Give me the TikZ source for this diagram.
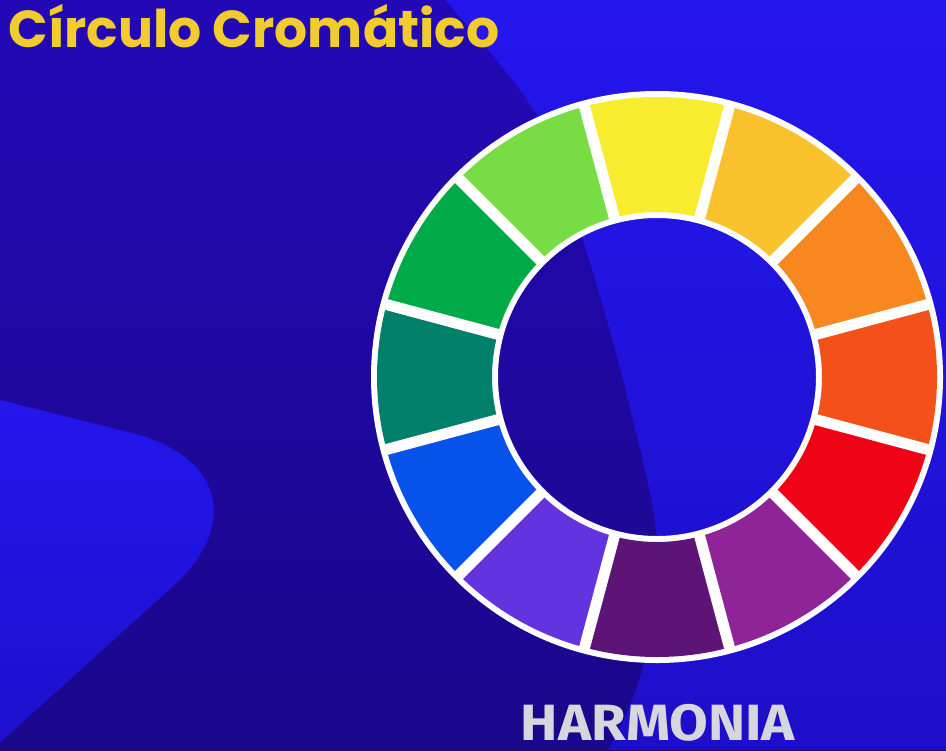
\documentclass[tikz,border=0pt]{standalone}
\usepackage{fontspec}
\usepackage{tikz}
\newfontfamily\titlefont{Poppins}
\newfontfamily\labelfont{Fira Sans}[FakeStretch=1.1]
\definecolor{bgdark}{RGB}{35,9,182}
\definecolor{bgdarklow}{RGB}{26,7,138}
\definecolor{bglight}{RGB}{36,22,238}
\definecolor{bglightlow}{RGB}{29,15,200}
\definecolor{titleyellow}{RGB}{242,203,47}
\definecolor{labelgrey}{RGB}{214,214,222}
\definecolor{cwyellow}{RGB}{248,236,46}
\definecolor{cwyelloworange}{RGB}{249,194,44}
\definecolor{cworange}{RGB}{247,135,30}
\definecolor{cwredorange}{RGB}{244,81,26}
\definecolor{cwred}{RGB}{238,4,22}
\definecolor{cwredviolet}{RGB}{142,36,151}
\definecolor{cwviolet}{RGB}{94,20,119}
\definecolor{cwblueviolet}{RGB}{100,51,224}
\definecolor{cwblue}{RGB}{6,82,234}
\definecolor{cwbluegreen}{RGB}{0,128,106}
\definecolor{cwgreen}{RGB}{0,170,72}
\definecolor{cwyellowgreen}{RGB}{120,221,69}

\begin{document}
\begin{tikzpicture}[x=0.5pt, y=-0.5pt,
  divider/.style={white, line width=5.5pt},
  headline/.style={anchor=base west, inner sep=0pt, text=titleyellow, font=\titlefont\bfseries\fontsize{26}{30}\selectfont},
  caption/.style={anchor=base, inner sep=0pt, text=labelgrey, font=\labelfont\bfseries\fontsize{25.5}{30}\selectfont}]
  \useasboundingbox (0,0) rectangle (946,750);
  \clip (0,0) rectangle (946,750);

  % background
  \shade[top color=bgdark, bottom color=bgdarklow] (0,0) rectangle (946,750);
  \shade[top color=bglight, bottom color=bglightlow] plot[smooth, tension=0.6] coordinates {(445,0) (540,120) (586,250) (628,400) (657,545) (642,670) (608,750)} -- (946,750) -- (946,0) -- cycle;
  \shade[top color=bglight, bottom color=bglightlow] (-60,385) -- (132,433) .. controls (223,456) and (241,526) .. (171,588) -- (-60,797) -- cycle;

  % colour wheel
  \coordinate (hub) at (657,377);
  \begin{scope}[shift={(hub)}, y=0.5pt]
    \fill[white, even odd rule] (0,0) circle[radius=286] (0,0) circle[radius=159];
    \foreach \ang/\col in {90/cwyellow, 120/cwyellowgreen, 150/cwgreen, 180/cwbluegreen, 210/cwblue, 240/cwblueviolet,
                           270/cwviolet, 300/cwredviolet, 330/cwred, 0/cwredorange, 30/cworange, 60/cwyelloworange}
      \fill[\col] (\ang-15:165) arc[start angle=\ang-15, end angle=\ang+15, radius=165]
        -- (\ang+15:280) arc[start angle=\ang+15, end angle=\ang-15, radius=280] -- cycle;
    \foreach \ang in {15,45,...,345}
      \draw[divider] (\ang:162) -- (\ang:283);
  \end{scope}

  \node[headline] (title) at (8,47) {Círculo Cromático};
  \node[caption] (harmonia) at (658,740) {HARMONIA};
\end{tikzpicture}
\end{document}
